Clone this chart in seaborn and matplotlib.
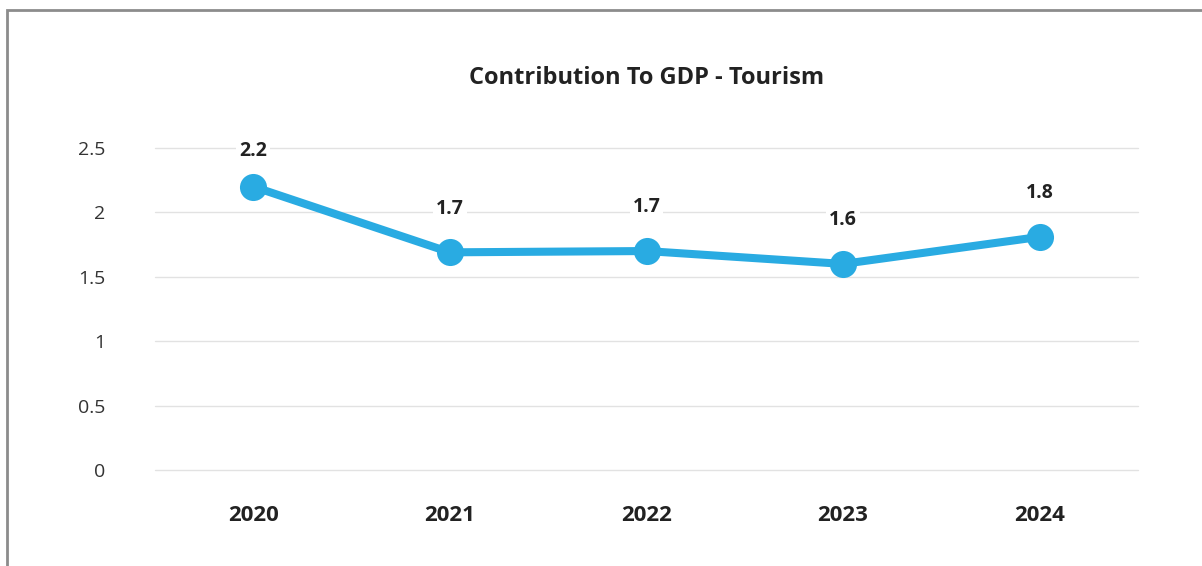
import pandas as pd
import seaborn as sns
import matplotlib.pyplot as plt
from matplotlib.patches import Rectangle

years = ['2020', '2021', '2022', '2023', '2024']
values = [2.2, 1.69, 1.70, 1.60, 1.81]
labels = ['2.2', '1.7', '1.7', '1.6', '1.8']
yticks = [0, 0.5, 1, 1.5, 2, 2.5]
ytick_labels = ['0', '0.5', '1', '1.5', '2', '2.5']

LINE_COLOR = '#29abe2'

df = pd.DataFrame({'year': years, 'value': values})

sns.set_theme(style='white')
plt.rcParams['font.family'] = ['Open Sans', 'DejaVu Sans']

fig = plt.figure(figsize=(12.02, 5.66), dpi=100)
ax = fig.add_axes([155 / 1202, 1 - 470 / 566, (1138 - 155) / 1202, (470 - 148) / 566])

sns.lineplot(data=df, x='year', y='value', ax=ax, color=LINE_COLOR, linewidth=5.8,
             marker='o', markersize=19.5, markeredgewidth=0, sort=False, zorder=3)

# labels sit above the points, but stay inside the top of the plot
for i, (v, lab) in enumerate(zip(values, labels)):
    ly = min(v + 0.34, 2.48)
    ax.text(i, ly, lab, ha='center', va='center', fontsize=14, fontweight='bold', color='#222222',
            bbox=dict(boxstyle='square,pad=0.15', fc='white', ec='none'), zorder=4)

ax.set_xlim(-0.5, 4.5)
ax.set_ylim(0, 2.5)
ax.set_yticks(yticks)
ax.set_yticklabels(ytick_labels)
ax.yaxis.grid(True, color='#e2e2e2', linewidth=1)
for gl in ax.yaxis.get_gridlines():
    gl.set_clip_on(False)
ax.xaxis.grid(False)
ax.set_axisbelow(True)
for s in ax.spines.values():
    s.set_visible(False)
ax.tick_params(axis='y', length=0, pad=36, labelsize=14, labelcolor='#333333')
ax.tick_params(axis='x', length=0, pad=25, labelsize=16, labelcolor='#222222')
for t in ax.get_xticklabels():
    t.set_fontweight('bold')
ax.set_xlabel('')
ax.set_ylabel('')
ax.set_title('Contribution To GDP - Tourism', fontsize=17, fontweight='bold', color='#222222', pad=46)

# gray frame around the chart
fig.patches.append(Rectangle((7 / 1202, -0.05), 1.2, 1 - 10 / 566 + 0.05, transform=fig.transFigure,
                             fill=False, edgecolor='#8c8c8c', linewidth=2, zorder=0))

plt.savefig('out.png', dpi=100)
